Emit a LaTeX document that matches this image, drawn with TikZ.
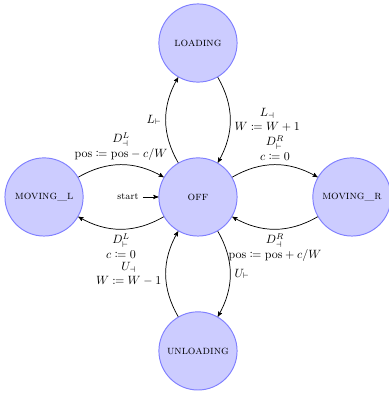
\documentclass[tikz,border=0pt]{standalone}
\usepackage{mathtools}
\usetikzlibrary{automata}
\usetikzlibrary{arrows}

\begin{document}
\begin{tikzpicture}[->,>=stealth',semithick,
    every state/.style={draw=blue!50,thick,fill=blue!20,minimum size=2.29cm,font=\normalsize\scshape},
    initial text={\footnotesize start},initial distance=13pt]
\useasboundingbox (-5.80,-5.86) rectangle (5.57,5.77);
% states
\node [state,initial] (off) at (0,0) {off};
\node [state] (loading) at (0,4.51) {loading};
\node [state] (unloading) at (0,-4.51) {unloading};
\node [state] (movl) at (-4.51,0) {moving\_l};
\node [state] (movr) at (4.51,0) {moving\_r};
% load
\path (off) edge [bend left] node [left] {$L_\vdash$} (loading);
\path (loading) edge [bend left] node [right,align=center] {$L_\dashv$\\$W \coloneqq W+1$} (off);
% unload
\path (off) edge [bend left] node [right] {$U_\vdash$} (unloading);
\path (unloading) edge [bend left] node [left,align=center] {$U_\dashv$\\$W \coloneqq W-1$} (off);
% drive left
\path (off) edge [bend left] node [below,align=center] {$D^L_\vdash$\\$c \coloneqq 0$} (movl);
\path (movl) edge [bend left] node [above,align=center] {$D^L_\dashv$\\$\mathrm{pos} \coloneqq \mathrm{pos} - c/W$} (off);
% drive right
\path (off) edge [bend left] node [above,align=center] {$D^R_\vdash$\\$c \coloneqq 0$} (movr);
\path (movr) edge [bend left] node [below,align=center] {$D^R_\dashv$\\$\mathrm{pos} \coloneqq \mathrm{pos} + c/W$} (off);
\end{tikzpicture}
\end{document}
